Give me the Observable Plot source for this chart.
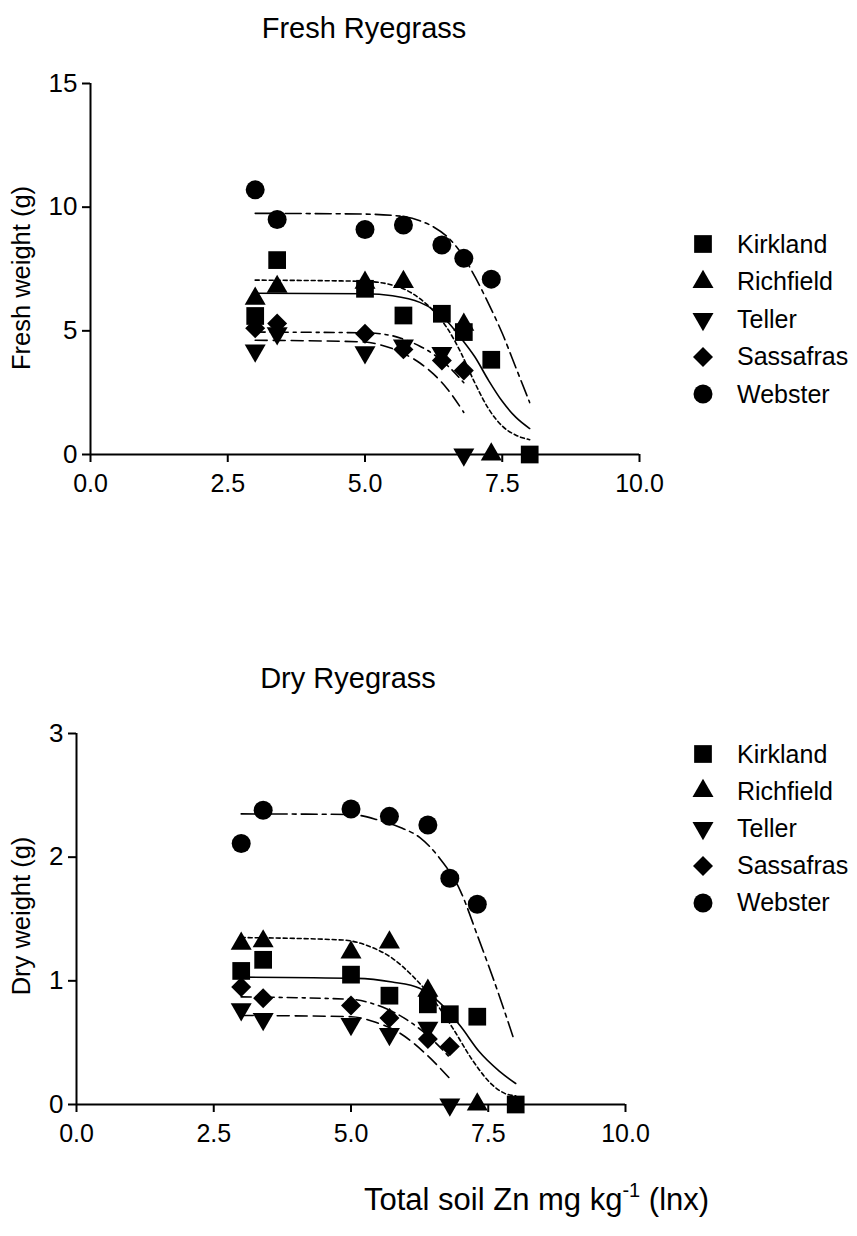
<!DOCTYPE html>
<html><head><meta charset="utf-8">
<script src="https://cdn.jsdelivr.net/npm/d3@7"></script>
<script src="https://cdn.jsdelivr.net/npm/@observablehq/plot@0.6"></script>
<style>
body{margin:0;background:#fff;font-family:"Liberation Sans",Arial,sans-serif;color:#000}
#root{position:relative;width:857px;height:1236px;overflow:hidden;background:#fff}
.abs{position:absolute;white-space:nowrap;line-height:1}
svg{overflow:visible}
</style></head><body><div id="root"></div>
<script>
// ---------- data ----------
const soils = ["Kirkland", "Richfield", "Teller", "Sassafras", "Webster"];
const znX = [3.0, 3.4, 5.0, 5.7, 6.4, 6.8, 7.3, 8.0];
const xTicks = [0, 2.5, 5, 7.5, 10];
const freshTicks = [0, 5, 10, 15];
const dryTicks = [0, 1, 2, 3];

// Fresh weight (g), aligned with znX (null = no point)
const freshKirkland  = [5.6, 7.86, 6.7, 5.62, 5.69, 4.95, 3.83, 0];
const freshRichfield = [6.3, 6.78, 6.95, 6.98, null, 5.25, 0, null];
const freshTeller    = [4.2, 4.9, 4.13, 4.4, 4.1, 0, null, null];
const freshSassafras = [5.1, 5.3, 4.88, 4.25, 3.8, 3.4, null, null];
const freshWebster   = [10.7, 9.5, 9.1, 9.28, 8.47, 7.93, 7.09, null];

// Dry weight (g)
const dryKirkland  = [1.08, 1.17, 1.05, 0.88, 0.81, 0.73, 0.71, 0];
const dryRichfield = [1.30, 1.32, 1.23, 1.31, 0.92, null, 0, null];
const dryTeller    = [0.77, 0.69, 0.65, 0.57, 0.62, 0, null, null];
const drySassafras = [0.95, 0.86, 0.80, 0.70, 0.53, 0.47, null, null];
const dryWebster   = [2.11, 2.38, 2.39, 2.33, 2.26, 1.83, 1.62, null];

// fitted curves: [x, y]
const fitFreshKirkland  = [[3.0,6.52],[5.0,6.5],[5.5,6.42],[6.0,6.15],[6.25,5.85],[6.5,5.38],[6.75,4.7],[7.0,3.95],[7.25,3.0],[7.5,2.15],[7.75,1.5],[8.0,1.05]];
const fitFreshRichfield = [[3.0,7.05],[5.0,7.0],[5.5,6.85],[5.75,6.65],[6.0,6.3],[6.25,5.8],[6.5,5.1],[6.75,4.1],[7.0,2.9],[7.25,1.85],[7.5,1.15],[7.75,0.78],[8.0,0.6]];
const fitFreshTeller    = [[3.0,4.62],[5.0,4.55],[5.25,4.45],[5.5,4.28],[5.75,4.03],[6.0,3.7],[6.25,3.25],[6.5,2.65],[6.8,1.7]];
const fitFreshSassafras = [[3.0,4.95],[5.0,4.92],[5.5,4.8],[5.75,4.62],[6.0,4.38],[6.25,4.05],[6.5,3.6],[6.8,2.9]];
const fitFreshWebster   = [[3.0,9.75],[5.0,9.72],[5.7,9.62],[6.0,9.45],[6.25,9.2],[6.5,8.8],[6.75,8.15],[7.0,7.2],[7.25,6.1],[7.5,4.9],[7.75,3.5],[8.0,2.1]];

const fitDryKirkland  = [[3.0,1.03],[5.1,1.02],[5.75,0.99],[6.25,0.94],[6.6,0.83],[7.0,0.63],[7.33,0.43],[7.7,0.27],[8.0,0.17]];
const fitDryRichfield = [[3.0,1.35],[4.85,1.33],[5.33,1.28],[5.76,1.18],[6.12,1.04],[6.48,0.86],[6.85,0.62],[7.21,0.36],[7.57,0.16],[7.8,0.09],[8.0,0.07]];
const fitDryTeller    = [[3.0,0.72],[5.0,0.71],[5.45,0.665],[5.88,0.58],[6.36,0.41],[6.8,0.21]];
const fitDrySassafras = [[3.0,0.87],[5.0,0.85],[5.5,0.80],[6.0,0.69],[6.42,0.55],[6.8,0.38]];
const fitDryWebster   = [[3.0,2.35],[5.0,2.345],[5.5,2.3],[5.9,2.24],[6.25,2.16],[6.6,2.0],[7.0,1.72],[7.3,1.37],[7.7,0.88],[7.95,0.55]];

// ---------- styles ----------
const symbolType = {Kirkland: "square", Richfield: "triangle", Teller: "triangle", Sassafras: "diamond2", Webster: "circle"};
const symbolR = {Kirkland: 10, Richfield: 7.8, Teller: 7.8, Sassafras: 9, Webster: 9.5};
const dashes = {Kirkland: null, Richfield: "4,3", Teller: "12,6", Sassafras: "10,5,3,5", Webster: "16,5,4,5"};
const FONT = '"Liberation Sans", Arial, sans-serif';

function toPoints(series) {
  const out = [];
  soils.forEach((s, i) => series[i].forEach((v, j) => { if (v != null) out.push({soil: s, x: znX[j], y: v}); }));
  return out;
}
function toFits(fits) {
  const out = {};
  soils.forEach((s, i) => out[s] = fits[i].map(([x, y]) => ({soil: s, x, y})));
  return out;
}

function makePlot({points, fits, yDomain, yTicks, ml, mr, mt, mb, w, h}) {
  const marks = [];
  for (const s of soils) {
    const opts = {x: "x", y: "y", curve: "monotone-x", stroke: "black", strokeWidth: 1.6};
    if (dashes[s]) opts.strokeDasharray = dashes[s];
    marks.push(Plot.line(fits[s], opts));
  }
  marks.push(Plot.ruleY([0], {stroke: "black", strokeWidth: 2}));
  marks.push(Plot.ruleX([0], {stroke: "black", strokeWidth: 2}));
  marks.push(Plot.axisX({ticks: xTicks, tickFormat: d3.format(".1f"), tickSize: 8, tickPadding: 12, fontSize: 25, strokeWidth: 2, label: null}));
  marks.push(Plot.axisY({ticks: yTicks, tickFormat: d3.format("d"), tickSize: 8, tickPadding: 5, fontSize: 26, strokeWidth: 2, label: null}));
  marks.push(Plot.dot(points, {x: "x", y: "y", symbol: "soil", fill: "black", stroke: "none",
    r: d => symbolR[d.soil], rotate: d => d.soil === "Teller" ? 180 : 0}));
  return Plot.plot({
    width: w, height: h, marginLeft: ml, marginRight: mr, marginTop: mt, marginBottom: mb,
    style: {fontFamily: FONT, color: "black", background: "transparent", overflow: "visible"},
    x: {domain: [0, 10]},
    y: {domain: yDomain},
    r: {type: "identity"},
    symbol: {domain: soils, range: soils.map(s => symbolType[s])},
    marks
  });
}

const root = document.getElementById("root");
function place(el, left, topPx) {
  el.style.position = "absolute"; el.style.left = left + "px"; el.style.top = topPx + "px";
  root.appendChild(el);
}
function text(str, left, topPx, size, extra = "") {
  const d = document.createElement("div");
  d.className = "abs";
  d.style.cssText += `left:${left}px;top:${topPx}px;font-size:${size}px;font-family:${FONT};${extra}`;
  d.innerHTML = str;
  root.appendChild(d);
  return d;
}
function legend(left, topPx, gap) {
  soils.forEach((s, i) => {
    const y = topPx + i * gap;
    const ns = "http://www.w3.org/2000/svg";
    const svg = document.createElementNS(ns, "svg");
    svg.setAttribute("width", 30); svg.setAttribute("height", 30);
    svg.style.cssText = `position:absolute;left:${left - 15}px;top:${y - 15}px;overflow:visible`;
    const p = document.createElementNS(ns, "path");
    const typ = {square: d3.symbolSquare, triangle: d3.symbolTriangle, diamond2: d3.symbolDiamond2, circle: d3.symbolCircle}[symbolType[s]];
    p.setAttribute("d", d3.symbol(typ, Math.PI * symbolR[s] ** 2)());
    p.setAttribute("transform", `translate(15,15)${s === "Teller" ? " rotate(180)" : ""}`);
    p.setAttribute("fill", "black");
    svg.appendChild(p);
    root.appendChild(svg);
    text(s, left + 34, y - 12.5, 25);
  });
}

// ---------- top plot ----------
const freshChart = makePlot({
  points: toPoints([freshKirkland, freshRichfield, freshTeller, freshSassafras, freshWebster]),
  fits: toFits([fitFreshKirkland, fitFreshRichfield, fitFreshTeller, fitFreshSassafras, fitFreshWebster]),
  yDomain: [0, 15], yTicks: freshTicks, ml: 90, mr: 61, mt: 83, mb: 66, w: 700, h: 520
});
place(freshChart, 0, 0);
text("Fresh Ryegrass", 364, 14, 29, "transform:translateX(-50%)");
text("Fresh weight (g)", 22, 278, 25.5, "transform:translate(-50%,-50%) rotate(-90deg)");
legend(703, 244, 37.5);

// ---------- bottom plot ----------
const dryChart = makePlot({
  points: toPoints([dryKirkland, dryRichfield, dryTeller, drySassafras, dryWebster]),
  fits: toFits([fitDryKirkland, fitDryRichfield, fitDryTeller, fitDrySassafras, fitDryWebster]),
  yDomain: [0, 3], yTicks: dryTicks, ml: 76, mr: 75, mt: 83, mb: 66, w: 700, h: 520
});
place(dryChart, 0, 650);
text("Dry Ryegrass", 348, 664, 29, "transform:translateX(-50%)");
text("Dry weight (g)", 22, 916, 25.5, "transform:translate(-50%,-50%) rotate(-90deg)");
legend(703, 754, 37.2);

text('Total soil Zn mg kg<sup style="font-size:20px;vertical-align:0;position:relative;top:-13px">-1</sup> (lnx)', 364, 1184, 31);
</script></body></html>
